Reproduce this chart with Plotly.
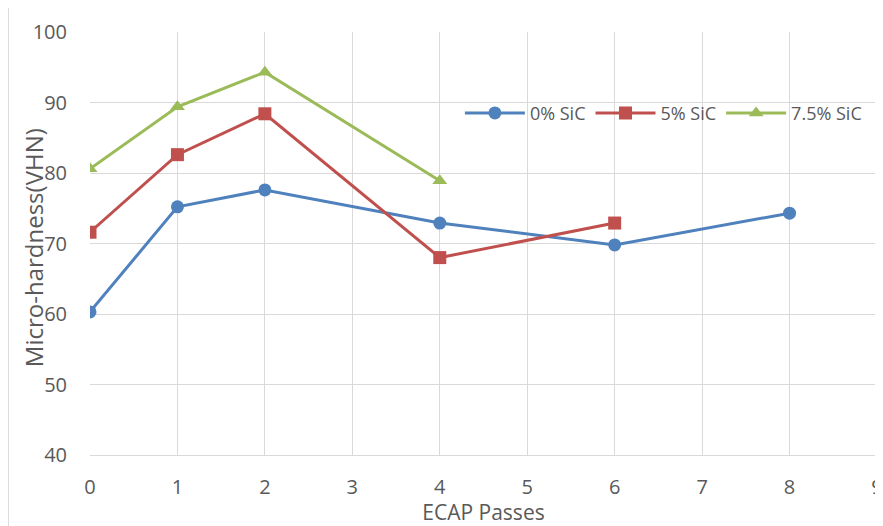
import plotly.graph_objects as go

passes_0 = [0, 1, 2, 4, 6, 8]
hard_0 = [60.3, 75.2, 77.6, 72.9, 69.8, 74.3]
passes_5 = [0, 1, 2, 4, 6]
hard_5 = [71.6, 82.6, 88.4, 68.0, 72.9]
passes_75 = [0, 1, 2, 4]
hard_75 = [80.6, 89.4, 94.3, 78.9]

series = [
    ("0% SiC", passes_0, hard_0, "#4F81BD", "circle"),
    ("5% SiC", passes_5, hard_5, "#C0504D", "square"),
    ("7.5% SiC", passes_75, hard_75, "#9BBB59", "triangle-up"),
]

font = "Open Sans, Liberation Sans, sans-serif"
fig = go.Figure()
for name, x, y, c, sym in series:
    fig.add_trace(go.Scatter(x=x, y=y, name=name, mode="lines+markers",
                             line=dict(color=c, width=3),
                             marker=dict(symbol=sym, size=13, color=c)))

# page body has an 8px default margin; figure sized so plot area sits at x 90..877, y 32..455
fig.update_layout(
    width=875, height=518,
    margin=dict(l=82, r=6, t=24, b=71, autoexpand=False),
    paper_bgcolor="white", plot_bgcolor="white",
    font=dict(family=font, size=20, color="#595959"),
    legend=dict(orientation="h", x=0.47, y=0.808, xanchor="left", yanchor="middle",
                bgcolor="rgba(255,255,255,0)", font=dict(family=font, size=18, color="#595959"),
                itemwidth=60),
    showlegend=True,
    shapes=[dict(type="rect", xref="paper", yref="paper", x0=-0.104, x1=1.03, y0=-0.25, y1=1.064,
                 line=dict(color="#d9d9d9", width=1.5))],
    annotations=[dict(text="Micro-hardness(VHN)", xref="paper", yref="paper",
                      x=-0.0724, y=0.489, textangle=-90, showarrow=False,
                      xanchor="center", yanchor="middle",
                      font=dict(family=font, size=24, color="#595959"))],
)
fig.update_xaxes(range=[0, 9], dtick=1, showgrid=True, gridcolor="#d9d9d9", gridwidth=1,
                 zeroline=False, showline=True, linecolor="#d9d9d9", linewidth=1, automargin=False,
                 title=dict(text="ECAP Passes", standoff=0,
                            font=dict(family=font, size=21, color="#595959")),
                 ticks="", ticklabelstandoff=14)
fig.update_yaxes(range=[40, 100], dtick=10, showgrid=True, gridcolor="#d9d9d9", gridwidth=1,
                 zeroline=False, showline=False, automargin=False,
                 ticks="", ticklabelstandoff=22)

fig.write_html("out.html")
